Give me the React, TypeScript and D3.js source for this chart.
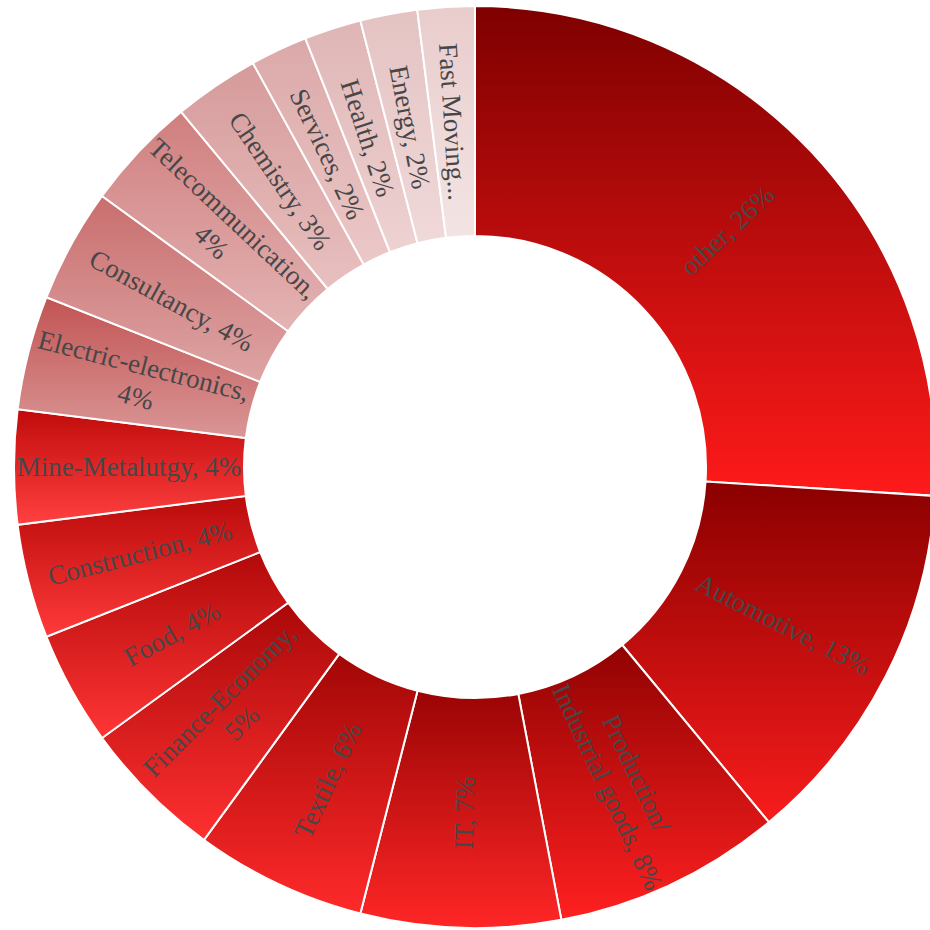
import React from "react";
import * as d3 from "d3";

// ---- data ----
const categories: string[] = [
  "other",
  "Automotive",
  "Production/\nIndustrial goods",
  "IT",
  "Textile",
  "Finance-Economy",
  "Food",
  "Construction",
  "Mine-Metalutgy",
  "Electric-electronics",
  "Consultancy",
  "Telecommunication",
  "Chemistry",
  "Services",
  "Health",
  "Energy",
  "Fast Moving Consumer Goods",
];
const values: number[] = [26, 13, 8, 7, 6, 5, 4, 4, 4, 4, 4, 4, 3, 2, 2, 2, 2];

// ---- palette (top -> bottom of each slice) ----
const topColors: string[] = [
  "#7e0000", "#8b0000", "#910202", "#9a0404", "#a20606", "#aa0808", "#b20909", "#b90a0a", "#c00b0b",
  "#c25454", "#c96e6e", "#d07e7e", "#d69a9a", "#dba8a8", "#dfb5b5", "#e4c2c2", "#e9cccc",
];
const bottomColors: string[] = [
  "#ff1a1a", "#f81c1c", "#ff2020", "#ff2626", "#ff2a2a", "#ff3030", "#ff3535", "#ff3a3a", "#ff4040",
  "#da9696", "#dea4a4", "#e4b4b4", "#e8c0c0", "#ecc8c8", "#eed2d2", "#f0d9d9", "#f3e4e4",
];

const W = 930;
const H = 930;
const CX = 475;
const CY = 467;
const R_OUT = 461;
const R_IN = 231;
const FONT_SIZE = 27;
const LINE_H = 32;
const FONT = `${FONT_SIZE}px "Liberation Serif"`;

let ctx: CanvasRenderingContext2D | null = null;
function measure(s: string): number {
  if (!ctx) {
    const c = document.createElement("canvas");
    ctx = c.getContext("2d");
  }
  if (!ctx) return s.length * FONT_SIZE * 0.45;
  ctx.font = FONT;
  return ctx.measureText(s).width;
}

function wrapLabel(text: string, maxLen: number, maxLines: number): string[] {
  const hard = text.split("\n");
  let lines: string[] = [];
  for (const part of hard) {
    const words = part.split(" ");
    let cur = "";
    for (const w of words) {
      const cand = cur ? cur + " " + w : w;
      if (measure(cand) <= maxLen || !cur) cur = cand;
      else {
        lines.push(cur);
        cur = w;
      }
    }
    if (cur) lines.push(cur);
  }
  if (lines.length > maxLines) {
    const words = text.replace(/\n/g, " ").split(" ");
    let best = "";
    for (let i = 1; i <= words.length; i++) {
      const cand = words.slice(0, i).join(" ") + "...";
      if (measure(cand) <= maxLen) best = cand;
      else break;
    }
    lines = [best || "..."];
  }
  return lines;
}

export default function App() {
  const total = d3.sum(values);
  const pie = d3
    .pie<number>()
    .sort(null)
    .value((d) => d)
    .startAngle(0)
    .endAngle(2 * Math.PI);
  const arcs = pie(values);
  const arcGen = d3.arc<d3.PieArcDatum<number>>().innerRadius(R_IN).outerRadius(R_OUT);
  const midR = (R_IN + R_OUT) / 2;

  return (
    <svg
      width={W}
      height={H}
      style={{ position: "absolute", left: 0, top: 0, background: "#fff" }}
      fontFamily='"Liberation Serif", serif'
    >
      <defs>
        {arcs.map((a, i) => (
          <linearGradient key={i} id={`g${i}`} x1="0" y1="0" x2="0" y2="1">
            <stop offset="0%" stopColor={topColors[i]} />
            <stop offset="100%" stopColor={bottomColors[i]} />
          </linearGradient>
        ))}
      </defs>
      <g transform={`translate(${CX},${CY})`}>
        {arcs.map((a, i) => (
          <path key={i} d={arcGen(a) || ""} fill={`url(#g${i})`} stroke="#fff" strokeWidth={2} />
        ))}
        {arcs.map((a, i) => {
          const mid = (a.startAngle + a.endAngle) / 2;
          const deg = (mid * 180) / Math.PI;
          const rot = deg < 180 ? deg - 90 : deg - 270;
          const x = Math.sin(mid) * midR;
          const y = -Math.cos(mid) * midR;
          const pct = Math.round((values[i] / total) * 100);
          const arcLen = (a.endAngle - a.startAngle) * midR;
          const maxLines = Math.max(1, Math.floor((arcLen * 0.85) / LINE_H));
          const lines = wrapLabel(`${categories[i]}, ${pct}%`, 232, maxLines);
          const n = lines.length;
          return (
            <text
              key={`t${i}`}
              transform={`translate(${x},${y}) rotate(${rot})`}
              textAnchor="middle"
              fontSize={FONT_SIZE}
              fill="#474747"
            >
              {lines.map((l, j) => (
                <tspan key={j} x={0} y={(j - (n - 1) / 2) * LINE_H} dy="0.35em">
                  {l}
                </tspan>
              ))}
            </text>
          );
        })}
      </g>
    </svg>
  );
}
